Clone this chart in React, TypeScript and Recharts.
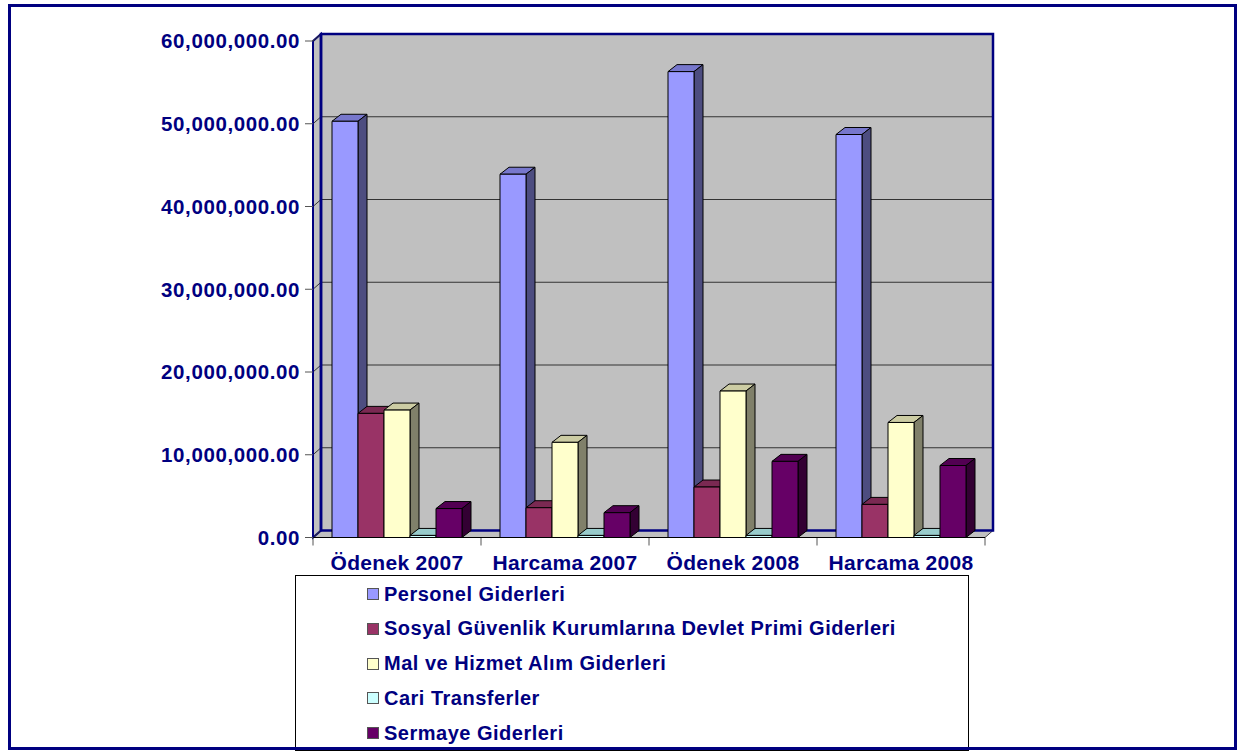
import { Bar, BarChart, ReferenceArea, XAxis, YAxis } from "recharts";

const categories = ["Ödenek 2007", "Harcama 2007", "Ödenek 2008", "Harcama 2008"];
const personel = [50300000, 43900000, 56300000, 48700000];
const sosyal = [15000000, 3600000, 6100000, 4000000];
const malHizmet = [15400000, 11500000, 17700000, 13900000];
const cari = [250000, 250000, 250000, 250000];
const sermaye = [3500000, 3000000, 9200000, 8700000];
const yTicks = [0, 10000000, 20000000, 30000000, 40000000, 50000000, 60000000];

const Y_MAX = 60000000;
const NAVY = "#000080";
const FONT = '"Liberation Sans", Arial, sans-serif';
const DX = 9;
const DY = 7;
const WDX = 8;
const WDY = 7;

const series = [
  { key: "personel", name: "Personel Giderleri", front: "#9999FF", top: "#7777CC", side: "#4D4D80" },
  { key: "sosyal", name: "Sosyal Güvenlik Kurumlarına Devlet Primi Giderleri", front: "#993366", top: "#7A2952", side: "#4D1A33" },
  { key: "mal", name: "Mal ve Hizmet Alım Giderleri", front: "#FFFFCC", top: "#CCCCA3", side: "#80806A" },
  { key: "cari", name: "Cari Transferler", front: "#CCFFFF", top: "#99CCCC", side: "#668080" },
  { key: "sermaye", name: "Sermaye Giderleri", front: "#660066", top: "#520052", side: "#330033" },
];

const data = categories.map((name, i) => ({
  name,
  personel: personel[i],
  sosyal: sosyal[i],
  mal: malHizmet[i],
  cari: cari[i],
  sermaye: sermaye[i],
}));

const fmt = (v: number) =>
  v.toLocaleString("en-US", { minimumFractionDigits: 2, maximumFractionDigits: 2 });

// 3D kutu: ön yüz + üst + yan
function box3d(top: string, side: string) {
  return (p: any) => {
    const { x, y, width: w, height: h, fill } = p;
    if (w == null || h == null || isNaN(y)) return <g />;
    return (
      <g stroke="#000" strokeWidth={1} strokeLinejoin="round">
        <polygon points={`${x},${y} ${x + DX},${y - DY} ${x + w + DX},${y - DY} ${x + w},${y}`} fill={top} />
        <polygon points={`${x + w},${y} ${x + w + DX},${y - DY} ${x + w + DX},${y + h - DY} ${x + w},${y + h}`} fill={side} />
        <rect x={x} y={y} width={w} height={h} fill={fill} />
      </g>
    );
  };
}

// arka duvar, sol duvar, zemin ve ızgara çizgileri
function Walls(p: any) {
  const { x, y, width, height } = p;
  const x1 = x + width;
  const yb = y + height;
  const toY = (v: number) => y + height * (1 - v / Y_MAX);
  const bounds = [0, 1, 2, 3, 4].map((i) => x + (width * i) / categories.length);
  return (
    <g>
      <polygon
        points={`${x},${yb} ${x1},${yb} ${x1 + WDX},${yb - WDY} ${x + WDX},${yb - WDY}`}
        fill="#C0C0C0"
        stroke="#404040"
        strokeWidth={1}
      />
      <polygon
        points={`${x},${y} ${x + WDX},${y - WDY} ${x + WDX},${yb - WDY} ${x},${yb}`}
        fill="#C0C0C0"
        stroke={NAVY}
        strokeWidth={2}
      />
      <rect x={x + WDX} y={y - WDY} width={width} height={height} fill="#C0C0C0" />
      {yTicks.map((v) => (
        <g key={v} stroke="#333" strokeWidth={1}>
          <line x1={x + WDX} x2={x1 + WDX} y1={toY(v) - WDY} y2={toY(v) - WDY} />
          <line x1={x} x2={x + WDX} y1={toY(v)} y2={toY(v) - WDY} />
        </g>
      ))}
      <rect x={x + WDX} y={y - WDY} width={width} height={height} fill="none" stroke={NAVY} strokeWidth={2.5} />
      <line x1={x + WDX} x2={x + WDX} y1={y - WDY} y2={yb - WDY} stroke={NAVY} strokeWidth={2.5} />
      {bounds.map((bx) => (
        <line key={bx} x1={bx} x2={bx} y1={yb} y2={yb + 8} stroke="#555" strokeWidth={1} />
      ))}
    </g>
  );
}

function LegendBox() {
  return (
    <div
      style={{
        position: "absolute",
        left: 295,
        top: 575,
        width: 674,
        height: 176,
        border: "1px solid #000",
        boxSizing: "border-box",
        background: "#fff",
      }}
    >
      {series.map((s, i) => (
        <div
          key={s.key}
          style={{
            position: "absolute",
            left: 71,
            top: 6 + i * 34.8,
            height: 24,
            display: "flex",
            alignItems: "center",
            fontFamily: FONT,
            fontWeight: 700,
            fontSize: 20,
            letterSpacing: 0.5,
            color: NAVY,
            whiteSpace: "nowrap",
          }}
        >
          <span
            style={{
              display: "inline-block",
              width: 10,
              height: 10,
              background: s.front,
              border: "1px solid #555",
              marginRight: 5,
            }}
          />
          {s.name}
        </div>
      ))}
    </div>
  );
}

export default function App() {
  return (
    <div style={{ position: "absolute", left: 0, top: 0, width: 1238, height: 751, background: "#fff" }}>
      <BarChart
        width={1238}
        height={751}
        data={data}
        margin={{ top: 41, right: 253, left: 133, bottom: 153.5 }}
        barCategoryGap={19}
        barGap={0}
      >
        <XAxis
          dataKey="name"
          tickLine={false}
          tickSize={8}
          tickMargin={10}
          axisLine={{ stroke: "#000", strokeWidth: 1 }}
          tick={{ fill: NAVY, fontSize: 21, fontWeight: 700, fontFamily: FONT, letterSpacing: 0.3 }}
          height={60}
        />
        <YAxis
          width={180}
          domain={[0, Y_MAX]}
          ticks={yTicks}
          interval={0}
          tickFormatter={fmt}
          tickSize={8}
          tickMargin={5}
          tickLine={{ stroke: "#555" }}
          axisLine={{ stroke: NAVY, strokeWidth: 2 }}
          tick={{ fill: NAVY, fontSize: 20.5, fontWeight: 700, fontFamily: FONT, letterSpacing: 0.6 }}
        />
        <ReferenceArea y1={0} y2={Y_MAX} shape={Walls} ifOverflow="visible" />
        {series.map((s) => (
          <Bar
            key={s.key}
            dataKey={s.key}
            name={s.name}
            fill={s.front}
            shape={box3d(s.top, s.side)}
            isAnimationActive={false}
          />
        ))}
      </BarChart>
      <LegendBox />
      <div
        style={{
          position: "absolute",
          left: 8,
          top: 4,
          width: 1229,
          height: 746,
          border: `3px solid ${NAVY}`,
          boxSizing: "border-box",
          pointerEvents: "none",
        }}
      />
    </div>
  );
}
